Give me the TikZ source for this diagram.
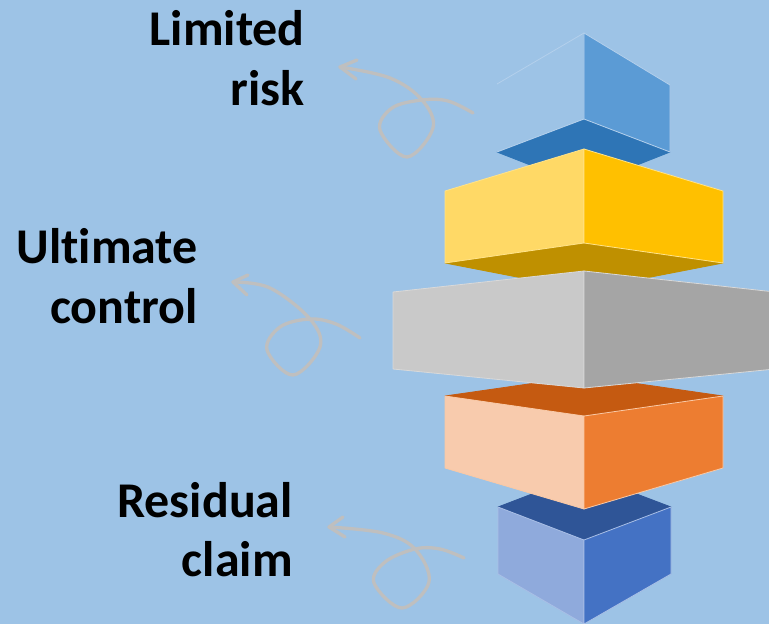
\documentclass[tikz,border=0pt]{standalone}
\usepackage{fontspec}
\setmainfont{Carlito}[RawFeature={-liga}]
\definecolor{bg}{HTML}{9DC3E6}
\definecolor{curlgrey}{HTML}{BFBFBF}
\definecolor{tbR}{HTML}{5B9BD5}
\definecolor{tbB}{HTML}{2E75B6}
\definecolor{tbE}{HTML}{B4D0EC}
\definecolor{yL}{HTML}{FFD966}
\definecolor{yR}{HTML}{FFC000}
\definecolor{yB}{HTML}{BF9000}
\definecolor{yE}{HTML}{FFE38A}
\definecolor{gL}{HTML}{C9C9C9}
\definecolor{gR}{HTML}{A5A5A5}
\definecolor{gE}{HTML}{D9D9D9}
\definecolor{oT}{HTML}{C55A11}
\definecolor{oL}{HTML}{F8CBAD}
\definecolor{oR}{HTML}{ED7D31}
\definecolor{oE}{HTML}{F9C9A6}
\definecolor{bT}{HTML}{2F5597}
\definecolor{bL}{HTML}{8FAADC}
\definecolor{bR}{HTML}{4472C4}
\definecolor{bE}{HTML}{A9BFE6}
\begin{document}
\begin{tikzpicture}[x=1pt,y=-1pt,
  face/.style={line width=0.8pt, line join=round},
  curl/.style={draw=curlgrey, line width=3.3pt, line cap=round, line join=round},
  lbl/.style={font=\fontsize{50}{60}\selectfont\bfseries, text=black, inner sep=0pt}]
\useasboundingbox[fill=bg] (0,0) rectangle (769,624);

% top blue block
\filldraw[face, fill=tbB, draw=tbB] (497,152) -- (584,119) -- (670,152) -- (584,186) -- cycle;
\filldraw[face, fill=tbR, draw=tbE] (584,33) -- (670,85) -- (670,152) -- (584,119) -- cycle;
\fill[bg] (584,33) -- (497,84) -- (497,152) -- (584,119) -- cycle;
\draw[face, draw=tbE] (497,84) -- (584,33);
\draw[face, draw=tbE] (497,152) -- (584,119);

% yellow block
\filldraw[face, fill=yB, draw=yB] (445,263) -- (584,243) -- (723,263) -- (584,290) -- cycle;
\filldraw[face, fill=yL, draw=yE] (445,191) -- (584,149) -- (584,243) -- (445,263) -- cycle;
\filldraw[face, fill=yR, draw=yE] (584,149) -- (723,191) -- (723,263) -- (584,243) -- cycle;

% bottom blue block
\filldraw[face, fill=bT, draw=bT] (498,507) -- (584,474) -- (671,507) -- (584,540) -- cycle;
\filldraw[face, fill=bL, draw=bE] (498,507) -- (584,540) -- (584,624) -- (498,574) -- cycle;
\filldraw[face, fill=bR, draw=bE] (584,540) -- (671,507) -- (671,574) -- (584,624) -- cycle;

% orange block
\filldraw[face, fill=oT, draw=oT] (445,396) -- (584,376) -- (723,396) -- (584,416) -- cycle;
\filldraw[face, fill=oL, draw=oE] (445,396) -- (584,416) -- (584,509) -- (445,468) -- cycle;
\filldraw[face, fill=oR, draw=oE] (584,416) -- (723,396) -- (723,468) -- (584,509) -- cycle;

% grey block
\filldraw[face, fill=gL, draw=gE] (393,292) -- (584,271) -- (584,388) -- (393,369) -- cycle;
\filldraw[face, fill=gR, draw=gE] (584,271) -- (775,292) -- (775,369) -- (584,388) -- cycle;

% curly arrows
\draw[curl] plot[smooth, tension=0.6] coordinates {(473,113) (448,101) (422,100) (392,108) (380,130) (407,157) (433,128) (422,100) (390,78) (340,67)};
\draw[curl] (357,60) -- (340,67) -- (356,79);

\draw[curl] plot[smooth, tension=0.6] coordinates {(360,338) (336,324) (310,319) (280,327) (267,350) (293,375) (320,347) (310,319) (270,288) (233,282)};
\draw[curl] (248,275) -- (233,282) -- (247,295);

\draw[curl] plot[smooth, tension=0.6] coordinates {(464,558) (440,549) (415,549) (385,562) (374,583) (402,608) (429,582) (415,549) (383,533) (329,527)};
\draw[curl] (343,517) -- (329,527) -- (345,537);

% labels
\node[lbl, anchor=base east] (lim1) at (305,45) {Limited};
\node[lbl, anchor=base east] (lim2) at (305,105) {risk};
\node[lbl, anchor=base east] (ult1) at (198,263) {Ultimate};
\node[lbl, anchor=base east] (ult2) at (198,323) {control};
\node[lbl, anchor=base east] (res1) at (293,517) {Residual};
\node[lbl, anchor=base east] (res2) at (293,576) {claim};
\end{tikzpicture}
\end{document}
